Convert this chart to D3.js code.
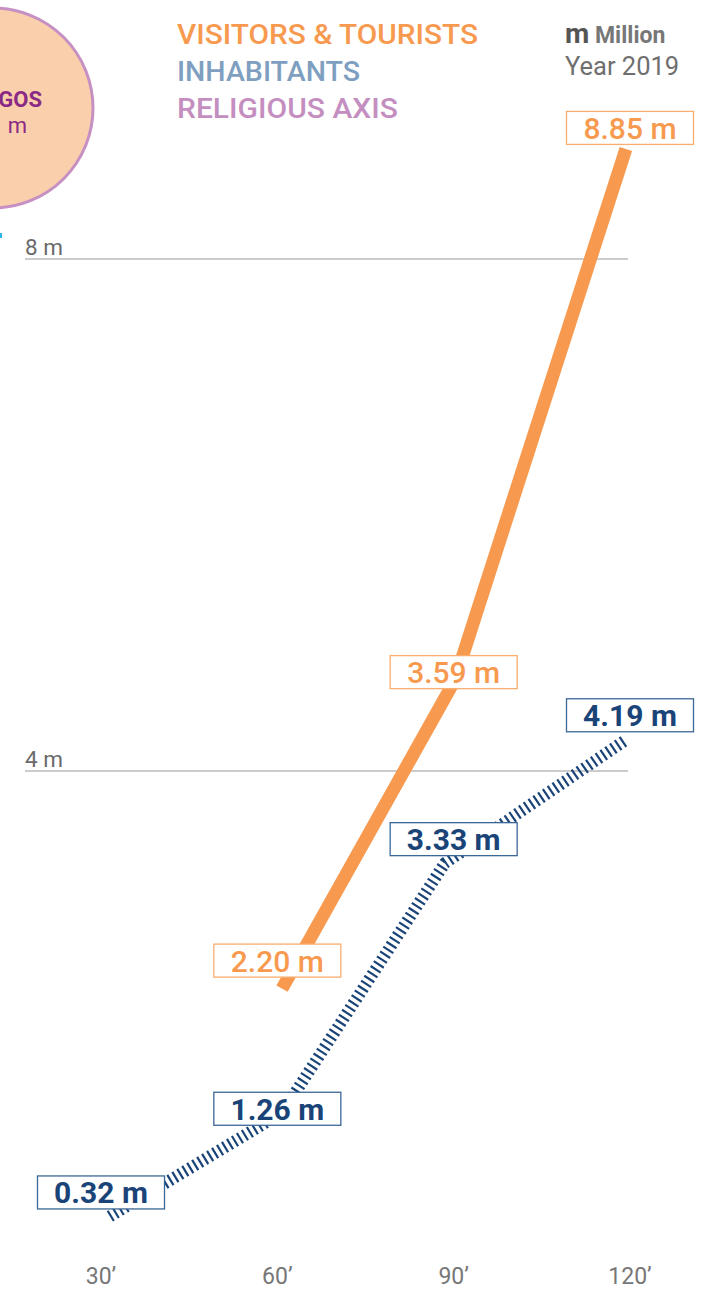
<!DOCTYPE html>
<html>
<head>
<meta charset="utf-8">
<script src="https://cdn.jsdelivr.net/npm/d3@7"></script>
<style>
  html, body { margin: 0; padding: 0; background: #ffffff; }
  svg { display: block; font-family: Roboto, "Noto Sans", sans-serif; }
</style>
</head>
<body>
<svg id="chart" width="724" height="1290"></svg>
<script>
// ---------- data ----------
const xTicks = [30, 60, 90, 120];
const xTickLabels = ["30\u2019", "60\u2019", "90\u2019", "120\u2019"];
const yTicks = [4, 8];
const yTickLabels = ["4 m", "8 m"];

const legendLabels = ["VISITORS & TOURISTS", "INHABITANTS", "RELIGIOUS AXIS"];

// Visitors & tourists (drawn positions)
const visitorsMinutes = [60.8, 90.2, 119.3];
const visitorsPlotted = [2.30, 4.71, 8.86];
const visitorsLabels = ["2.20 m", "3.59 m", "8.85 m"];
const visitorsLabelMinutes = [60, 90, 120];

// Inhabitants
const inhabitantsMinutes = [31.5, 60.8, 88.5, 119.2];
const inhabitantsPlotted = [0.52, 1.33, 3.28, 4.24];
const inhabitantsLabels = ["0.32 m", "1.26 m", "3.33 m", "4.19 m"];
const inhabitantsLabelMinutes = [30, 60, 90, 120];

// ---------- layout ----------
const svg = d3.select("#chart");
const x = d3.scaleLinear().domain([30, 120]).range([101, 630]);
const y = d3.scaleLinear().domain([0, 8]).range([1283, 259]);

const ORANGE = "#f79a4f";
const ORANGE_BOX = "#f9ad6e";
const NAVY = "#1a4478";
const NAVY_BOX = "#3b6797";
const GRAY = "#6a6a6a";

// partial circle (top-left)
svg.append("circle")
  .attr("cx", -7).attr("cy", 108).attr("r", 100)
  .attr("fill", "#facfab").attr("stroke", "#c690c2").attr("stroke-width", 3);
svg.append("text").attr("x", 42).attr("y", 107).attr("text-anchor", "end")
  .attr("font-size", 22).attr("font-weight", 700).attr("fill", "#8a2a86").text("GOS");
svg.append("text").attr("x", 27).attr("y", 133).attr("text-anchor", "end")
  .attr("font-size", 22).attr("font-weight", 400).attr("fill", "#8a2a86").text("m");
svg.append("rect").attr("x", 0).attr("y", 233).attr("width", 2).attr("height", 5).attr("fill", "#29b6e8");

// legend
const legendColors = [ORANGE, "#7f9fc0", "#c48fc0"];
const legendY = [44, 81, 118];
const legendW = [301, 183, 221];
legendLabels.forEach((t, i) => {
  svg.append("text").attr("x", 177).attr("y", legendY[i])
    .attr("font-size", 27).attr("font-weight", 500).attr("fill", legendColors[i])
    .attr("textLength", legendW[i]).attr("lengthAdjust", "spacingAndGlyphs")
    .text(t);
});

// unit note
const note = svg.append("text").attr("x", 565).attr("y", 43).attr("font-size", 23).attr("font-weight", 700);
note.append("tspan").attr("fill", "#555").attr("font-size", 28).text("m");
note.append("tspan").attr("fill", "#777").text(" Million");
svg.append("text").attr("x", 565).attr("y", 75).attr("font-size", 25.5).attr("font-weight", 400)
  .attr("fill", "#6f6f6f").text("Year 2019");

// y gridlines
const grid = svg.append("g");
yTicks.forEach((v, i) => {
  grid.append("line").attr("x1", 25).attr("x2", 628)
    .attr("y1", y(v)).attr("y2", y(v))
    .attr("stroke", "#9a9a9a").attr("stroke-width", 1.2);
  grid.append("text").attr("x", 25).attr("y", y(v) - 4)
    .attr("font-size", 22.5).attr("font-weight", 400).attr("fill", GRAY)
    .text(yTickLabels[i]);
});

// x axis labels
xTicks.forEach((v, i) => {
  svg.append("text").attr("x", x(v)).attr("y", 1284).attr("text-anchor", "middle")
    .attr("font-size", 23).attr("font-weight", 400).attr("fill", "#777")
    .text(xTickLabels[i]);
});

// lines
const line = d3.line().x(d => x(d[0])).y(d => y(d[1]));
const inhabitantsPts = inhabitantsMinutes.map((m, i) => [m, inhabitantsPlotted[i]]);
const visitorsPts = visitorsMinutes.map((m, i) => [m, visitorsPlotted[i]]);

svg.append("path").datum(inhabitantsPts).attr("d", line)
  .attr("fill", "none").attr("stroke", NAVY).attr("stroke-width", 12)
  .attr("stroke-dasharray", "2.2 3.6").attr("stroke-linejoin", "miter");

svg.append("path").datum(visitorsPts).attr("d", line)
  .attr("fill", "none").attr("stroke", ORANGE).attr("stroke-width", 13)
  .attr("stroke-linecap", "butt").attr("stroke-linejoin", "miter");

// value labels
function valueLabel(cx, cy, text, stroke, color, weight) {
  const g = svg.append("g");
  g.append("rect").attr("x", cx - 63.5).attr("y", cy - 16.5).attr("width", 127).attr("height", 33)
    .attr("fill", "#fff").attr("stroke", stroke).attr("stroke-width", 1.3);
  g.append("text").attr("x", cx).attr("y", cy + 11).attr("text-anchor", "middle")
    .attr("font-size", 30).attr("font-weight", weight).attr("fill", color).text(text);
}
const visitorsLabelDy = [-28, -8, -21];
visitorsLabels.forEach((t, i) => {
  const px = x(visitorsLabelMinutes[i]);
  const py = y(visitorsPlotted[i]) + visitorsLabelDy[i];
  valueLabel(px, py, t, ORANGE_BOX, ORANGE, 500);
});
const inhabitantsLabelDy = [-24, -4, -24, -25];
inhabitantsLabels.forEach((t, i) => {
  const px = x(inhabitantsLabelMinutes[i]);
  const py = y(inhabitantsPlotted[i]) + inhabitantsLabelDy[i];
  valueLabel(px, py, t, NAVY_BOX, NAVY, 700);
});
</script>
</body>
</html>
